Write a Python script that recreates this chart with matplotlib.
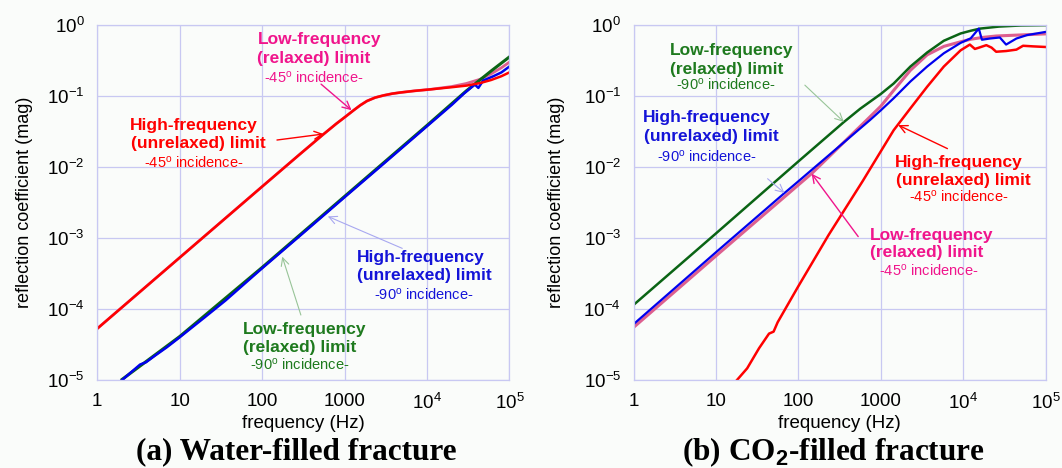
import matplotlib
matplotlib.use("Agg")
import matplotlib.pyplot as plt
import numpy as np

plt.rcParams['font.family'] = ['Liberation Sans', 'DejaVu Sans']
plt.rcParams['mathtext.fontset'] = 'custom'
plt.rcParams['mathtext.rm'] = 'Liberation Sans'
plt.rcParams['mathtext.it'] = 'Liberation Sans:italic'
plt.rcParams['mathtext.bf'] = 'Liberation Sans:bold'

# ---------------- data: (a) water-filled fracture ----------------
w_red_f = [1, 10, 100, 288, 556, 800, 1000, 1290, 1550, 1870, 2350, 2980, 3800, 4750, 7000, 1.1e4, 2e4, 3e4, 4.4e4, 6e4, 8e4, 1e5]
w_red_r = [5.3e-5, 5.3e-4, 5.3e-3, 0.0152, 0.029, 0.041, 0.05, 0.063, 0.074, 0.085, 0.095, 0.102, 0.108, 0.112, 0.118, 0.124, 0.133, 0.14, 0.152, 0.168, 0.19, 0.215]

w_pink_f = [1, 10, 100, 288, 556, 800, 1000, 1290, 1550, 1870, 2350, 2980, 3800, 4750, 7000, 1.1e4, 2e4, 3e4, 4.4e4, 6e4, 8e4, 1e5]
w_pink_r = [5.3e-5, 5.3e-4, 5.3e-3, 0.0152, 0.029, 0.041, 0.05, 0.063, 0.074, 0.085, 0.095, 0.102, 0.108, 0.112, 0.118, 0.124, 0.136, 0.15, 0.172, 0.205, 0.25, 0.3]

w_blue_f = [2.0, 2.6, 3.3, 3.9, 5.0, 7.0, 10, 20, 36, 100, 300, 1000, 3000, 1e4, 2e4, 2.8e4, 3.4e4, 3.8e4, 4.2e4, 4.8e4, 6.4e4, 8e4, 1e5]
w_blue_r = [1e-5, 1.3e-5, 1.65e-5, 1.78e-5, 2.2e-5, 2.9e-5, 4.0e-5, 7.6e-5, 1.32e-4, 3.75e-4, 1.12e-3, 3.75e-3, 1.12e-2, 3.75e-2, 7.5e-2, 0.108, 0.13, 0.145, 0.13, 0.165, 0.19, 0.215, 0.26]

w_green_f = [2.0, 10, 100, 1000, 1e4, 3e4, 6e4, 1e5]
w_green_r = [1.02e-5, 4.1e-5, 3.85e-4, 3.85e-3, 3.85e-2, 0.118, 0.225, 0.355]

# ---------------- data: (b) CO2-filled fracture ----------------
c_green_f = [1, 10, 100, 356, 560, 1000, 1430, 2280, 3640, 5800, 9270, 1.23e4, 1.6e4, 2.7e4, 5e4, 1e5]
c_green_r = [1.14e-4, 1.16e-3, 1.2e-2, 0.043, 0.066, 0.107, 0.15, 0.26, 0.41, 0.6, 0.76, 0.83, 0.89, 0.95, 0.985, 0.995]

c_blue_f = [1, 10, 67.8, 100, 740, 1000, 1430, 2280, 3640, 5800, 9270, 1.23e4, 1.54e4, 1.68e4, 2.1e4, 2.77e4, 3.3e4, 4.4e4, 5.9e4, 1e5]
c_blue_r = [6.1e-5, 6.3e-4, 4.3e-3, 6.3e-3, 0.046, 0.063, 0.093, 0.16, 0.26, 0.4, 0.56, 0.65, 0.89, 0.62, 0.645, 0.667, 0.53, 0.645, 0.72, 0.80]

c_pink_f = [1, 10, 100, 145, 675, 1000, 1430, 2280, 3640, 5800, 9270, 1.23e4, 1.74e4, 2.5e4, 4.4e4, 1e5]
c_pink_r = [5.5e-5, 5.6e-4, 5.6e-3, 8.1e-3, 0.046, 0.072, 0.12, 0.23, 0.38, 0.5, 0.58, 0.63, 0.67, 0.7, 0.72, 0.75]

c_red_f = [18, 23.9, 33.3, 44, 50, 56, 99, 232, 600, 1430, 2280, 3640, 5800, 9270, 1.2e4, 1.38e4, 1.55e4, 1.9e4, 2.2e4, 2.5e4, 3.3e4, 4.4e4, 5.3e4, 7e4, 1e5]
c_red_r = [1e-5, 1.46e-5, 2.8e-5, 4.5e-5, 4.8e-5, 6.5e-5, 2.06e-4, 1.1e-3, 6.3e-3, 0.033, 0.067, 0.135, 0.26, 0.44, 0.53, 0.46, 0.48, 0.52, 0.48, 0.42, 0.43, 0.45, 0.51, 0.5, 0.49]

x_ticks = [1, 10, 100, 1000, 1e4, 1e5]
x_tick_labels = ['1', '10', '100', '1000', r'$10^4$', r'$10^5$']
y_ticks = [1e-5, 1e-4, 1e-3, 1e-2, 1e-1, 1e0]
y_tick_labels = [r'$10^{-5}$', r'$10^{-4}$', r'$10^{-3}$', r'$10^{-2}$', r'$10^{-1}$', r'$10^{0}$']

captions = [r'(a) Water-filled fracture', r'(b) CO$_\mathbf{2}$-filled fracture']

# ---------------- styling ----------------
BG = '#fafcfa'
GRID = '#c8c8f2'
RED = '#ff0000'
PINK_LINE = '#dd5f8f'
PINK_TXT = '#f0158c'
BLUE = '#0000ee'
BLUE_TXT = '#1414d8'
GREEN = '#0a6414'
GREEN_TXT = '#1e7a1e'

fig = plt.figure(figsize=(10.62, 4.68), dpi=100, facecolor=BG)
axL = fig.add_axes([97.3 / 1062, 1 - 380 / 468, 412.1 / 1062, 355 / 468])
axR = fig.add_axes([633.5 / 1062, 1 - 380 / 468, 412.3 / 1062, 355 / 468])

for ax in (axL, axR):
    ax.set_facecolor(BG)
    ax.set_xscale('log')
    ax.set_yscale('log')
    ax.set_xlim(1, 1e5)
    ax.set_ylim(1e-5, 1e0)
    ax.set_xticks(x_ticks)
    ax.set_xticklabels(x_tick_labels)
    ax.set_yticks(y_ticks)
    ax.set_yticklabels(y_tick_labels)
    ax.minorticks_off()
    ax.tick_params(length=0, labelsize=13.5, pad=9)
    ax.grid(True, color=GRID, lw=0.9)
    for s in ax.spines.values():
        s.set_color(GRID)
        s.set_linewidth(0.9)
    ax.set_axisbelow(True)
    ax.set_xlabel('frequency (Hz)', fontsize=13.5)
    ax.set_ylabel('reflection coefficient (mag)', fontsize=13)
    ax.xaxis.set_label_coords(0.5, -0.1)

axL.yaxis.set_label_coords(-0.157, 0.5)
axR.yaxis.set_label_coords(-0.165, 0.5)

# ---- left panel lines ----
axL.plot(w_pink_f, w_pink_r, color=PINK_LINE, lw=2.0)
axL.plot(w_green_f, w_green_r, color=GREEN, lw=2.2)
axL.plot(w_blue_f, w_blue_r, color=BLUE, lw=1.8)
axL.plot(w_red_f, w_red_r, color=RED, lw=1.8)

# ---- right panel lines ----
axR.plot(c_pink_f, c_pink_r, color=PINK_LINE, lw=2.2)
axR.plot(c_green_f, c_green_r, color=GREEN, lw=1.8)
axR.plot(c_blue_f, c_blue_r, color=BLUE, lw=1.6)
axR.plot(c_red_f, c_red_r, color=RED, lw=1.8)

BOLD = 12.5
SMALL = 10.5
inc45 = r'-45$^{\mathrm{o}}$ incidence-'
inc90 = r'-90$^{\mathrm{o}}$ incidence-'


def label(ax, lines, color):
    for (txt, lx, ly, bold) in lines:
        ax.text(10 ** lx, 10 ** ly, txt, color=color, ha='center', va='center',
                fontsize=BOLD if bold else SMALL,
                fontweight='bold' if bold else 'normal')


def arrow(ax, x0, y0, x1, y1, color, lw=1.0):
    ax.annotate('', xy=(10 ** x1, 10 ** y1), xytext=(10 ** x0, 10 ** y0),
                arrowprops=dict(arrowstyle='->', color=color, lw=lw,
                                mutation_scale=14, shrinkA=0, shrinkB=0))


# ---- left annotations ----
label(axL, [('Low-frequency', 2.695, -0.20, True),
            ('(relaxed) limit', 2.625, -0.47, True),
            (inc45, 2.63, -0.74, False)], PINK_TXT)
arrow(axL, 2.715, -0.833, 3.085, -1.2, PINK_TXT)

label(axL, [('High-frequency', 1.173, -1.41, True),
            ('(unrelaxed) limit', 1.222, -1.67, True),
            (inc45, 1.165, -1.94, False)], RED)
arrow(axL, 2.18, -1.62, 2.745, -1.535, RED)

label(axL, [('High-frequency', 3.92, -3.277, True),
            ('(unrelaxed) limit', 3.97, -3.53, True),
            (inc90, 3.96, -3.80, False)], BLUE_TXT)
arrow(axL, 3.70, -3.146, 2.797, -2.696, '#a8a8f0', lw=0.8)

label(axL, [('Low-frequency', 2.51, -4.286, True),
            ('(relaxed) limit', 2.46, -4.545, True),
            (inc90, 2.46, -4.78, False)], GREEN_TXT)
arrow(axL, 2.47, -4.085, 2.244, -3.263, '#98c498', lw=0.8)

# ---- right annotations ----
label(axR, [('Low-frequency', 1.193, -0.353, True),
            ('(relaxed) limit', 1.132, -0.62, True),
            (inc90, 1.123, -0.84, False)], GREEN_TXT)
arrow(axR, 2.078, -0.847, 2.551, -1.365, '#98c498', lw=0.8)

label(axR, [('High-frequency', 0.885, -1.30, True),
            ('(unrelaxed) limit', 0.947, -1.576, True),
            (inc90, 0.885, -1.85, False)], BLUE_TXT)
arrow(axR, 1.626, -2.165, 1.831, -2.367, '#a8a8f0', lw=0.8)

label(axR, [('High-frequency', 3.947, -1.93, True),
            ('(unrelaxed) limit', 3.996, -2.19, True),
            (inc45, 3.95, -2.42, False)], RED)
arrow(axR, 3.807, -1.741, 3.21, -1.41, RED)

label(axR, [('Low-frequency', 3.618, -2.96, True),
            ('(relaxed) limit', 3.555, -3.207, True),
            (inc45, 3.582, -3.46, False)], PINK_TXT)
arrow(axR, 2.725, -2.98, 2.16, -2.094, PINK_TXT)

# ---- captions ----
fig.text(296 / 1062, 1 - 452 / 468, captions[0], ha='center', va='center',
         fontsize=22.5, fontweight='bold', family=['Liberation Serif', 'DejaVu Serif'])
fig.text(833 / 1062, 1 - 452 / 468, captions[1], ha='center', va='center',
         fontsize=22.5, fontweight='bold', family=['Liberation Serif', 'DejaVu Serif'])

fig.savefig('out.png', dpi=100, facecolor=BG)
